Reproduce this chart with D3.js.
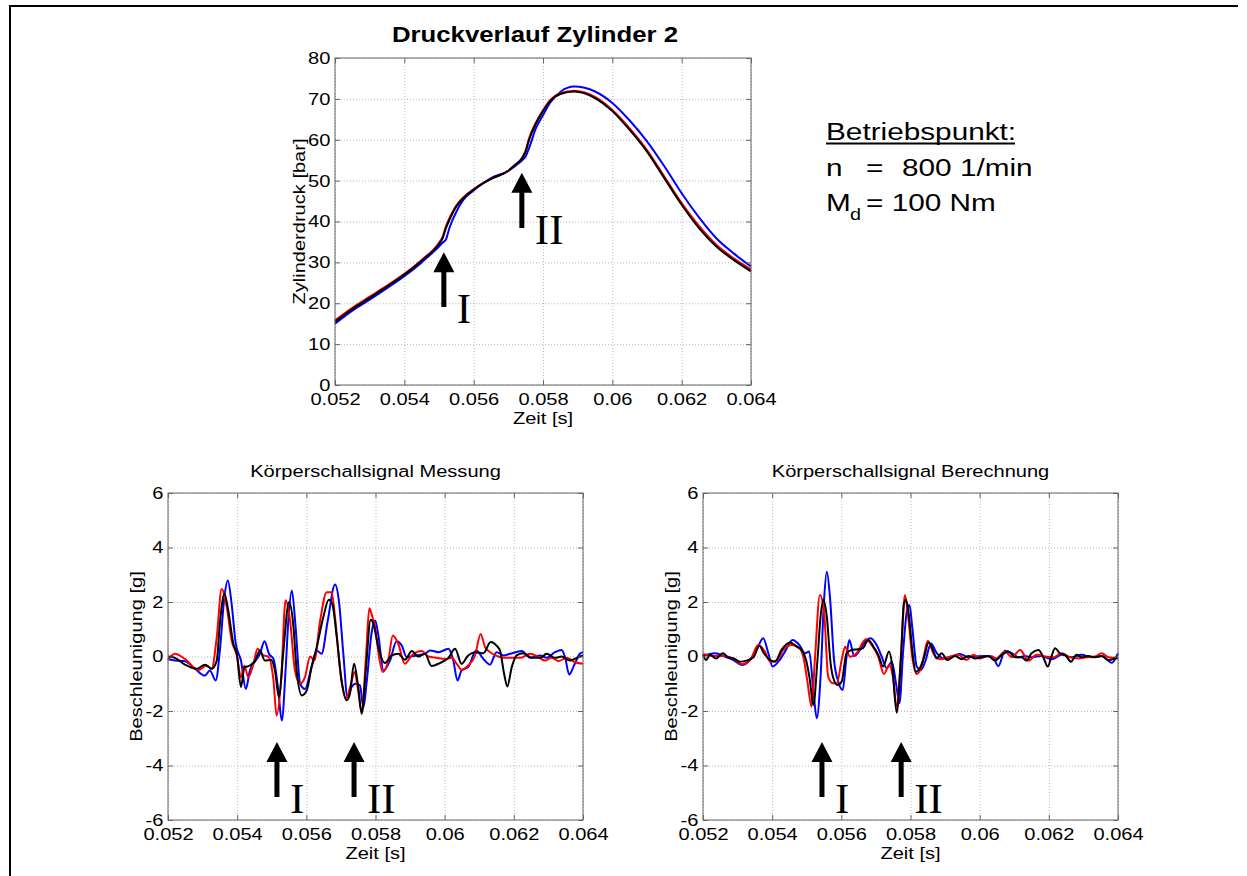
<!DOCTYPE html>
<html>
<head>
<meta charset="utf-8">
<script src="https://cdn.jsdelivr.net/npm/d3@7"></script>
<style>
  body { margin: 0; background: #fff; }
  text { font-family: "Liberation Sans", Arial, sans-serif; fill: #000; }
</style>
</head>
<body>
<svg id="chart" width="1247" height="876"></svg>
<script>
// ---- data (time in ms) ----
const xTicks = [0.052, 0.054, 0.056, 0.058, 0.06, 0.062, 0.064]
const pressureTicks = [0, 10, 20, 30, 40, 50, 60, 70, 80]
const accelTicks = [-6, -4, -2, 0, 2, 4, 6]

const pressureTime = [52, 52.5, 53, 53.5, 54, 54.5, 55, 55.1, 55.2, 55.3, 55.5, 55.7, 56, 56.5, 57, 57.2, 57.4, 57.5, 57.6, 57.8, 58, 58.2, 58.5, 58.9, 59.5, 60, 60.5, 61, 61.5, 62, 62.5, 63, 63.5, 64]
const pressureBlack = [15.5, 18.6, 21.3, 24.1, 27.0, 30.4, 34.5, 35.8, 38.4, 40.4, 43.7, 45.7, 47.8, 50.4, 52.4, 53.9, 55.5, 57.1, 60.0, 64.0, 67.0, 69.4, 71.2, 71.8, 70.2, 67.0, 62.4, 57.1, 50.6, 44.1, 38.4, 33.9, 30.6, 27.8]
const pressureRed = [15.8, 18.9, 21.6, 24.3, 27.2, 30.6, 34.8, 36.2, 38.8, 40.8, 43.9, 45.9, 47.9, 50.4, 52.4, 53.9, 55.6, 57.4, 60.4, 64.3, 67.2, 69.6, 71.4, 72.0, 70.5, 67.3, 62.8, 57.5, 51.0, 44.5, 38.9, 34.3, 31.0, 28.3]
const pressureBlue = [15.0, 18.2, 20.9, 23.7, 26.6, 30.0, 33.9, 34.8, 35.6, 38.4, 42.4, 45.3, 47.6, 50.6, 52.4, 53.6, 55.0, 55.9, 58.0, 62.9, 66.0, 69.0, 71.7, 73.0, 71.8, 69.0, 64.7, 59.6, 53.5, 46.9, 41.0, 35.9, 32.2, 29.0]

// Körperschall Messung: [t ms, g]
const messBlack = [[52.0,0],[52.2,-0.05],[52.49,-0.3],[52.83,-0.45],[53.07,-0.3],[53.26,-0.45],[53.41,-0.15],[53.5,1.2],[53.63,2.3],[53.74,1.7],[53.89,0.46],[53.99,0.1],[54.11,-1.12],[54.21,-0.4],[54.37,-0.33],[54.52,-0.15],[54.66,0.22],[54.8,-0.15],[54.98,-0.12],[55.09,-0.5],[55.21,-1.5],[55.33,0.1],[55.5,2.0],[55.62,1.2],[55.72,-0.5],[55.87,-1.43],[56.01,-1.25],[56.15,-0.4],[56.3,0.34],[56.49,1.44],[56.65,2.08],[56.75,1.93],[56.88,0.71],[57.02,-0.88],[57.17,-1.61],[57.26,-1.37],[57.38,-0.27],[57.5,-1.12],[57.6,-2.1],[57.72,-0.5],[57.86,1.35],[57.94,1.2],[58.08,0.34],[58.27,-0.24],[58.47,0.04],[58.66,0.1],[58.85,-0.12],[59.05,0.2],[59.24,0],[59.43,0.1],[59.62,-0.35],[59.86,-0.24],[60.11,-0.05],[60.3,0.28],[60.49,-0.27],[60.68,0.04],[60.88,0.16],[61.12,0.12],[61.33,0.53],[61.5,0.4],[61.6,0.22],[61.72,-0.64],[61.81,-1.1],[61.94,-0.39],[62.08,0.04],[62.27,0.12],[62.52,-0.05],[62.76,-0.05],[62.95,0.1],[63.19,-0.05],[63.38,0],[63.62,-0.15],[63.82,-0.05],[64.0,0.04]]
const messRed = [[52.0,-0.12],[52.2,0.1],[52.49,-0.09],[52.88,-0.5],[53.12,-0.33],[53.26,-0.45],[53.41,0.71],[53.55,2.48],[53.7,1.81],[53.84,0.59],[53.99,0.04],[54.11,-0.76],[54.21,-0.33],[54.32,-0.76],[54.47,-0.27],[54.59,0.28],[54.76,0.04],[54.9,0],[55.05,-0.88],[55.14,-2.17],[55.27,-0.88],[55.4,2.06],[55.53,1.32],[55.67,-0.51],[55.82,-1.0],[55.96,-0.76],[56.11,0],[56.23,-0.15],[56.4,1.32],[56.59,2.36],[56.73,2.36],[56.83,1.44],[57.0,-0.76],[57.14,-1.55],[57.28,-1.06],[57.39,-0.57],[57.5,-1.25],[57.6,-2.04],[57.73,0.1],[57.82,1.77],[57.9,1.5],[58.0,1.0],[58.1,0.0],[58.21,-0.57],[58.37,-0.15],[58.5,0.77],[58.66,0.46],[58.85,-0.27],[59.05,0.04],[59.34,0.2],[59.53,0],[59.77,-0.05],[60.01,-0.09],[60.2,-0.05],[60.35,-0.27],[60.49,-0.49],[60.68,-0.33],[60.88,0.04],[61.04,0.83],[61.17,0.34],[61.36,0.12],[61.55,0],[61.74,-0.05],[61.94,-0.05],[62.18,-0.05],[62.47,0.1],[62.71,-0.02],[62.9,-0.15],[63.09,-0.05],[63.29,-0.17],[63.53,-0.05],[63.77,-0.21],[64.0,-0.27]]
const messBlue = [[52.0,-0.09],[52.2,-0.15],[52.49,-0.17],[52.78,-0.45],[53.07,-0.7],[53.21,-0.51],[53.38,-0.88],[53.5,0.22],[53.63,2.18],[53.73,2.79],[53.84,1.93],[53.96,0.46],[54.11,-0.15],[54.25,-1.19],[54.37,-0.51],[54.5,-0.21],[54.66,0.1],[54.79,0.56],[54.92,0.1],[55.05,-0.09],[55.19,-1.25],[55.29,-2.35],[55.4,-0.51],[55.48,1.32],[55.58,2.42],[55.69,1.08],[55.82,-1.0],[55.96,-1.19],[56.15,-0.39],[56.3,0.22],[56.44,0.1],[56.62,1.32],[56.83,2.64],[56.94,2.06],[57.07,0.1],[57.19,-1.49],[57.31,-1.12],[57.42,-1.0],[57.55,-1.06],[57.65,-1.86],[57.74,-1.0],[57.89,0.89],[57.99,1.32],[58.08,0.8],[58.23,-0.51],[58.42,-0.15],[58.61,0.56],[58.76,0.4],[58.9,-0.02],[59.19,0.04],[59.43,0.1],[59.58,0.22],[59.82,0.16],[60.11,0.28],[60.25,-0.15],[60.37,-0.88],[60.49,-0.51],[60.68,-0.39],[60.91,0.22],[61.12,-0.09],[61.31,-0.3],[61.5,0.16],[61.7,0.04],[61.89,0.1],[62.23,0.2],[62.47,-0.05],[62.76,0.04],[62.95,-0.05],[63.19,0.16],[63.38,0.24],[63.48,-0.02],[63.6,-0.66],[63.74,-0.33],[63.91,0.1],[64.0,0.16]]

// Körperschall Berechnung: [t ms, g]
const rechBlack = [[52.0,0.06],[52.09,-0.13],[52.2,0.06],[52.38,-0.07],[52.57,0.12],[52.73,-0.03],[52.88,-0.07],[53.07,-0.19],[53.26,-0.15],[53.46,-0.03],[53.63,0.39],[53.76,0.12],[53.89,-0.07],[54.08,-0.19],[54.27,0.24],[54.52,0.51],[54.71,0.36],[54.85,0.24],[54.98,-0.13],[55.09,-0.86],[55.19,-1.78],[55.31,-0.13],[55.4,1.46],[55.48,2.07],[55.58,1.46],[55.69,-0.25],[55.77,-0.8],[55.89,-1.05],[56.01,-0.92],[56.15,0.12],[56.3,0.24],[56.44,0.26],[56.62,0.3],[56.78,0.61],[56.93,0.36],[57.07,0.06],[57.21,-0.37],[57.38,0.18],[57.47,-0.31],[57.6,-2.06],[57.72,-0.13],[57.81,1.95],[57.87,2.07],[57.95,1.55],[58.05,0.24],[58.15,-0.56],[58.27,-0.43],[58.4,0],[58.52,0.51],[58.61,0.36],[58.76,-0.07],[58.9,0.12],[59.07,-0.13],[59.29,0.02],[59.48,-0.1],[59.67,0.02],[59.86,-0.07],[60.06,-0.03],[60.25,0.02],[60.44,-0.15],[60.64,0.06],[60.83,0.18],[61.02,-0.03],[61.21,-0.03],[61.36,-0.15],[61.5,0.12],[61.7,0.24],[61.84,-0.03],[61.97,-0.37],[62.08,0.02],[62.18,0.3],[62.32,0.12],[62.47,0.06],[62.64,-0.19],[62.8,0.06],[62.95,-0.03],[63.14,0.02],[63.34,-0.03],[63.53,0.02],[63.72,-0.13],[64.0,-0.03]]
const rechRed = [[52.0,0.09],[52.3,0.02],[52.59,0.02],[52.88,-0.07],[53.12,-0.28],[53.36,-0.13],[53.6,0.42],[53.79,0.18],[53.94,-0.19],[54.15,-0.13],[54.32,0.24],[54.57,0.42],[54.76,0.34],[54.9,-0.01],[55.02,-0.92],[55.14,-1.84],[55.24,-0.01],[55.38,2.26],[55.5,1.65],[55.62,-0.74],[55.75,-0.98],[55.87,-0.98],[56.01,-0.13],[56.11,0.36],[56.25,-0.01],[56.44,0.12],[56.71,0.63],[56.88,0.42],[57.07,-0.01],[57.23,-0.64],[57.39,-0.31],[57.49,-0.74],[57.6,-1.84],[57.73,0.12],[57.84,2.26],[57.93,1.5],[58.05,0],[58.18,-0.64],[58.32,-0.37],[58.5,0.58],[58.66,0.12],[58.85,-0.1],[59.09,-0.03],[59.38,0.06],[59.62,-0.13],[59.82,0.06],[60.01,-0.07],[60.25,0.02],[60.49,-0.07],[60.73,0.18],[60.93,-0.03],[61.17,0.24],[61.41,-0.15],[61.65,0.06],[61.89,0],[62.13,-0.03],[62.37,0.12],[62.61,-0.03],[62.85,-0.07],[63.09,-0.03],[63.34,0],[63.53,0.12],[63.72,-0.03],[64.0,-0.07]]
const rechBlue = [[52.0,0.02],[52.35,0.12],[52.64,-0.01],[52.88,-0.13],[53.12,-0.31],[53.36,-0.13],[53.55,0.24],[53.74,0.67],[53.89,0.12],[54.01,-0.37],[54.18,-0.19],[54.37,0.18],[54.59,0.61],[54.79,0.42],[54.95,0.12],[55.07,0.18],[55.19,-1.23],[55.29,-2.27],[55.4,-0.74],[55.5,2.07],[55.58,3.11],[55.67,2.2],[55.79,-0.13],[55.91,-0.92],[56.04,-1.23],[56.15,-0.01],[56.23,0.61],[56.37,0.02],[56.54,0.24],[56.68,0.54],[56.85,0.67],[57.02,0.42],[57.17,-0.01],[57.31,-0.43],[57.46,-0.19],[57.58,-0.98],[57.68,-1.72],[57.79,0.24],[57.91,1.77],[57.97,1.89],[58.05,1.09],[58.18,-0.37],[58.3,-0.5],[58.44,-0.13],[58.59,0.48],[58.76,0.12],[58.95,-0.07],[59.19,0],[59.43,0.09],[59.67,-0.03],[59.91,0],[60.15,0.02],[60.37,0],[60.54,-0.35],[60.73,0.21],[60.93,0.12],[61.12,-0.03],[61.31,0.02],[61.5,-0.03],[61.79,0.02],[62.08,-0.1],[62.37,0.06],[62.66,-0.03],[62.95,0.06],[63.24,-0.03],[63.53,0.02],[63.82,-0.23],[64.0,0.12]]

// arrow annotations: time (s), tip and tail value
const arrowLabels = ["I", "II"]
const topArrowX = [0.05514, 0.05739], topArrowTip = [32.5, 51.9], topArrowTail = [19.1, 38.4]
const messArrowX = [0.05515, 0.05738], rechArrowX = [0.05544, 0.05773]
const accelArrowTip = [-3.14, -3.14], accelArrowTail = [-5.16, -5.16]

// matlab text is a bit wider than Arial
const SX = 1.18

const svg = d3.select("#chart")
svg.append("rect").attr("width", 1247).attr("height", 876).attr("fill", "#fff")
// figure frame
svg.append("path").attr("d", "M10,876V6H1238").attr("fill", "none").attr("stroke", "#000").attr("stroke-width", 2)

const txt = (sel, x, y, str, size, sx, anchor) => sel.append("text")
    .attr("transform", `translate(${x},${y}) scale(${sx},1)`)
    .attr("font-size", size)
    .attr("text-anchor", anchor || "start")
    .text(str)

const panel = (p) => {
    const g = svg.append("g").attr("transform", `translate(${p.left},${p.top})`)
    const x = d3.scaleLinear().domain([0.052, 0.064]).range([0, p.w])
    const y = d3.scaleLinear().domain(p.yDomain).range([p.h, 0])

    // dotted grid
    const gx = g.append("g").attr("transform", `translate(0,${p.h})`)
        .call(d3.axisBottom(x).tickValues(xTicks).tickSize(-p.h).tickFormat(""))
    const gy = g.append("g")
        .call(d3.axisLeft(y).tickValues(p.yTicks).tickSize(-p.w).tickFormat(""))
    ;[gx, gy].forEach(s => {
        s.select(".domain").remove()
        s.selectAll("line").attr("stroke", "#b8b8b8").attr("stroke-dasharray", "1,2")
    })

    // curves
    const line = d3.line().x(d => x(d[0] / 1000)).y(d => y(d[1])).curve(d3.curveMonotoneX)
    p.series.forEach(s => {
        g.append("path").datum(s.data).attr("d", line)
            .attr("fill", "none").attr("stroke", s.color).attr("stroke-width", 2)
    })

    // box + inward ticks
    g.append("rect").attr("width", p.w).attr("height", p.h).attr("fill", "none").attr("stroke", "#666")
    const fmt = d => String(+d.toFixed(3))
    const xa = g.append("g").attr("transform", `translate(0,${p.h})`)
        .call(d3.axisBottom(x).tickValues(xTicks).tickSize(-5).tickPadding(8).tickFormat(fmt))
    const xt = g.append("g").call(d3.axisTop(x).tickValues(xTicks).tickSize(-5).tickFormat(""))
    const ya = g.append("g").call(d3.axisLeft(y).tickValues(p.yTicks).tickSize(-5).tickPadding(4).tickFormat(d => String(d)))
    const yr = g.append("g").attr("transform", `translate(${p.w},0)`)
        .call(d3.axisRight(y).tickValues(p.yTicks).tickSize(-5).tickFormat(""))
    ;[xa, xt, ya, yr].forEach(s => {
        s.select(".domain").remove()
        s.selectAll("line").attr("stroke", "#666")
        s.attr("font-size", 17).attr("font-family", null)
        s.selectAll("text").attr("fill", "#000").attr("transform", `scale(${SX},1)`)
    })

    // labels
    txt(g, p.w / 2, p.h + 39, "Zeit [s]", 17, SX, "middle")
    g.append("text")
        .attr("transform", `translate(${p.ylabX},${p.h / 2}) rotate(-90) scale(${SX},1)`)
        .attr("font-size", 17).attr("text-anchor", "middle").text(p.ylabel)
    txt(g, p.w / 2 + p.titleDx, -16, p.title, p.titleSize, p.titleSx, "middle")
        .attr("font-weight", p.titleBold ? "bold" : "normal")

    // arrows
    p.arrowX.forEach((ax, i) => {
        const cx = x(ax), tip = y(p.arrowTip[i]), tail = y(p.arrowTail[i])
        g.append("path")
            .attr("d", `M${cx},${tip}L${cx + 10.5},${tip + 20}L${cx + 2.5},${tip + 20}L${cx + 2.5},${tail}L${cx - 2.5},${tail}L${cx - 2.5},${tip + 20}L${cx - 10.5},${tip + 20}Z`)
            .attr("fill", "#000")
        g.append("text").attr("x", cx + 13).attr("y", tail + 16)
            .style("font-family", "'Liberation Serif', 'Times New Roman', serif")
            .attr("font-size", 43).text(arrowLabels[i])
    })
}

panel({
    left: 335, top: 58, w: 416, h: 327,
    yDomain: [0, 80], yTicks: pressureTicks,
    title: "Druckverlauf Zylinder 2", titleSize: 23, titleSx: 1.12, titleBold: true, titleDx: -8,
    ylabel: "Zylinderdruck [bar]", ylabX: -30,
    series: [
        { color: "#0000ff", data: pressureTime.map((t, i) => [t, pressureBlue[i]]) },
        { color: "#ff0000", data: pressureTime.map((t, i) => [t, pressureRed[i]]) },
        { color: "#000000", data: pressureTime.map((t, i) => [t, pressureBlack[i]]) }
    ],
    arrowX: topArrowX, arrowTip: topArrowTip, arrowTail: topArrowTail
})

panel({
    left: 168, top: 493, w: 415, h: 327,
    yDomain: [-6, 6], yTicks: accelTicks,
    title: "Körperschallsignal Messung", titleSize: 17, titleSx: SX, titleBold: false, titleDx: 0,
    ylabel: "Beschleunigung [g]", ylabX: -26,
    series: [
        { color: "#0000ff", data: messBlue },
        { color: "#ff0000", data: messRed },
        { color: "#000000", data: messBlack }
    ],
    arrowX: messArrowX, arrowTip: accelArrowTip, arrowTail: accelArrowTail
})

panel({
    left: 703, top: 493, w: 415, h: 327,
    yDomain: [-6, 6], yTicks: accelTicks,
    title: "Körperschallsignal Berechnung", titleSize: 17, titleSx: SX, titleBold: false, titleDx: 0,
    ylabel: "Beschleunigung [g]", ylabX: -26,
    series: [
        { color: "#0000ff", data: rechBlue },
        { color: "#ff0000", data: rechRed },
        { color: "#000000", data: rechBlack }
    ],
    arrowX: rechArrowX, arrowTip: accelArrowTip, arrowTail: accelArrowTail
})

// operating point box
const op = svg.append("g")
const BS = 1.24
txt(op, 826, 140, "Betriebspunkt:", 24, BS)
op.append("line").attr("x1", 826).attr("x2", 1015).attr("y1", 143.5).attr("y2", 143.5)
    .attr("stroke", "#000").attr("stroke-width", 1.8)
txt(op, 826, 176, "n", 24, BS)
txt(op, 866, 176, "=", 24, BS)
txt(op, 902, 176, "800 1/min", 24, BS)
txt(op, 826, 211, "M", 24, BS)
txt(op, 850, 220, "d", 16, BS)
txt(op, 866, 211, "= 100 Nm", 24, BS)
</script>
</body>
</html>
